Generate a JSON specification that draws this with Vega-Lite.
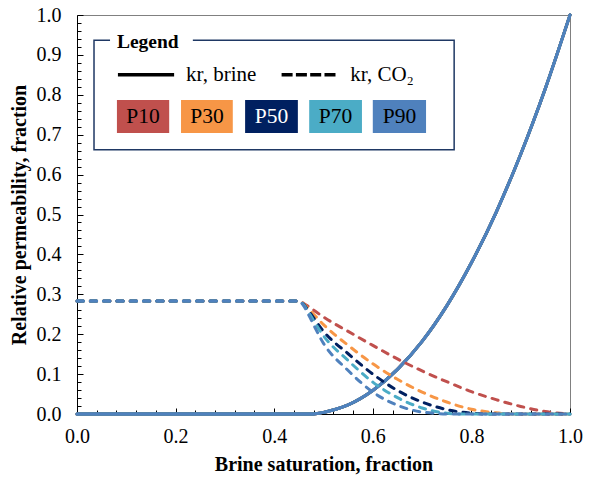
{
  "$schema": "https://vega.github.io/schema/vega-lite/v6.json",
  "width": 493,
  "height": 399,
  "autosize": "none",
  "padding": {"left": 77, "top": 15, "right": 22, "bottom": 65},
  "background": "white",
  "config": {
    "font": "Liberation Serif",
    "view": {"stroke": "#808080", "strokeWidth": 1}
  },
  "resolve": {"axis": {"x": "independent", "y": "independent"}},
  "datasets": {
    "brine": [
      {"run": "P10", "sw": 0, "kr": 0}, {"run": "P10", "sw": 0.46, "kr": 0}, {"run": "P10", "sw": 0.48, "kr": 0.0003}, {"run": "P10", "sw": 0.5, "kr": 0.004}, {"run": "P10", "sw": 0.525, "kr": 0.012}, {"run": "P10", "sw": 0.55, "kr": 0.023}, {"run": "P10", "sw": 0.6, "kr": 0.059}, {"run": "P10", "sw": 0.65, "kr": 0.112}, {"run": "P10", "sw": 0.7, "kr": 0.182}, {"run": "P10", "sw": 0.75, "kr": 0.271}, {"run": "P10", "sw": 0.8, "kr": 0.379}, {"run": "P10", "sw": 0.85, "kr": 0.505}, {"run": "P10", "sw": 0.9, "kr": 0.651}, {"run": "P10", "sw": 0.95, "kr": 0.816}, {"run": "P10", "sw": 1.0, "kr": 1.0},
      {"run": "P30", "sw": 0, "kr": 0}, {"run": "P30", "sw": 0.46, "kr": 0}, {"run": "P30", "sw": 0.48, "kr": 0.0003}, {"run": "P30", "sw": 0.5, "kr": 0.004}, {"run": "P30", "sw": 0.525, "kr": 0.012}, {"run": "P30", "sw": 0.55, "kr": 0.023}, {"run": "P30", "sw": 0.6, "kr": 0.059}, {"run": "P30", "sw": 0.65, "kr": 0.112}, {"run": "P30", "sw": 0.7, "kr": 0.182}, {"run": "P30", "sw": 0.75, "kr": 0.271}, {"run": "P30", "sw": 0.8, "kr": 0.379}, {"run": "P30", "sw": 0.85, "kr": 0.505}, {"run": "P30", "sw": 0.9, "kr": 0.651}, {"run": "P30", "sw": 0.95, "kr": 0.816}, {"run": "P30", "sw": 1.0, "kr": 1.0},
      {"run": "P50", "sw": 0, "kr": 0}, {"run": "P50", "sw": 0.46, "kr": 0}, {"run": "P50", "sw": 0.48, "kr": 0.0003}, {"run": "P50", "sw": 0.5, "kr": 0.004}, {"run": "P50", "sw": 0.525, "kr": 0.012}, {"run": "P50", "sw": 0.55, "kr": 0.023}, {"run": "P50", "sw": 0.6, "kr": 0.059}, {"run": "P50", "sw": 0.65, "kr": 0.112}, {"run": "P50", "sw": 0.7, "kr": 0.182}, {"run": "P50", "sw": 0.75, "kr": 0.271}, {"run": "P50", "sw": 0.8, "kr": 0.379}, {"run": "P50", "sw": 0.85, "kr": 0.505}, {"run": "P50", "sw": 0.9, "kr": 0.651}, {"run": "P50", "sw": 0.95, "kr": 0.816}, {"run": "P50", "sw": 1.0, "kr": 1.0},
      {"run": "P70", "sw": 0, "kr": 0}, {"run": "P70", "sw": 0.46, "kr": 0}, {"run": "P70", "sw": 0.48, "kr": 0.0003}, {"run": "P70", "sw": 0.5, "kr": 0.004}, {"run": "P70", "sw": 0.525, "kr": 0.012}, {"run": "P70", "sw": 0.55, "kr": 0.023}, {"run": "P70", "sw": 0.6, "kr": 0.059}, {"run": "P70", "sw": 0.65, "kr": 0.112}, {"run": "P70", "sw": 0.7, "kr": 0.182}, {"run": "P70", "sw": 0.75, "kr": 0.271}, {"run": "P70", "sw": 0.8, "kr": 0.379}, {"run": "P70", "sw": 0.85, "kr": 0.505}, {"run": "P70", "sw": 0.9, "kr": 0.651}, {"run": "P70", "sw": 0.95, "kr": 0.816}, {"run": "P70", "sw": 1.0, "kr": 1.0},
      {"run": "P90", "sw": 0, "kr": 0}, {"run": "P90", "sw": 0.46, "kr": 0}, {"run": "P90", "sw": 0.48, "kr": 0.0003}, {"run": "P90", "sw": 0.5, "kr": 0.004}, {"run": "P90", "sw": 0.525, "kr": 0.012}, {"run": "P90", "sw": 0.55, "kr": 0.023}, {"run": "P90", "sw": 0.6, "kr": 0.059}, {"run": "P90", "sw": 0.65, "kr": 0.112}, {"run": "P90", "sw": 0.7, "kr": 0.182}, {"run": "P90", "sw": 0.75, "kr": 0.271}, {"run": "P90", "sw": 0.8, "kr": 0.379}, {"run": "P90", "sw": 0.85, "kr": 0.505}, {"run": "P90", "sw": 0.9, "kr": 0.651}, {"run": "P90", "sw": 0.95, "kr": 0.816}, {"run": "P90", "sw": 1.0, "kr": 1.0}
    ],
    "co2": [
      {"run": "P10", "sw": 0, "kr": 0.283}, {"run": "P10", "sw": 0.45, "kr": 0.283}, {"run": "P10", "sw": 0.46, "kr": 0.277}, {"run": "P10", "sw": 0.47, "kr": 0.269}, {"run": "P10", "sw": 0.5, "kr": 0.243}, {"run": "P10", "sw": 0.55, "kr": 0.207}, {"run": "P10", "sw": 0.6, "kr": 0.172}, {"run": "P10", "sw": 0.65, "kr": 0.138}, {"run": "P10", "sw": 0.7, "kr": 0.108}, {"run": "P10", "sw": 0.75, "kr": 0.081}, {"run": "P10", "sw": 0.8, "kr": 0.056}, {"run": "P10", "sw": 0.85, "kr": 0.036}, {"run": "P10", "sw": 0.9, "kr": 0.019}, {"run": "P10", "sw": 0.95, "kr": 0.006}, {"run": "P10", "sw": 1.0, "kr": 0},
      {"run": "P30", "sw": 0, "kr": 0.283}, {"run": "P30", "sw": 0.45, "kr": 0.283}, {"run": "P30", "sw": 0.46, "kr": 0.275}, {"run": "P30", "sw": 0.47, "kr": 0.263}, {"run": "P30", "sw": 0.5, "kr": 0.224}, {"run": "P30", "sw": 0.55, "kr": 0.172}, {"run": "P30", "sw": 0.6, "kr": 0.126}, {"run": "P30", "sw": 0.65, "kr": 0.087}, {"run": "P30", "sw": 0.7, "kr": 0.055}, {"run": "P30", "sw": 0.75, "kr": 0.03}, {"run": "P30", "sw": 0.8, "kr": 0.012}, {"run": "P30", "sw": 0.85, "kr": 0.003}, {"run": "P30", "sw": 0.88, "kr": 0}, {"run": "P30", "sw": 1.0, "kr": 0},
      {"run": "P50", "sw": 0, "kr": 0.283}, {"run": "P50", "sw": 0.45, "kr": 0.283}, {"run": "P50", "sw": 0.46, "kr": 0.274}, {"run": "P50", "sw": 0.47, "kr": 0.258}, {"run": "P50", "sw": 0.5, "kr": 0.207}, {"run": "P50", "sw": 0.55, "kr": 0.151}, {"run": "P50", "sw": 0.6, "kr": 0.1}, {"run": "P50", "sw": 0.65, "kr": 0.059}, {"run": "P50", "sw": 0.7, "kr": 0.03}, {"run": "P50", "sw": 0.75, "kr": 0.011}, {"run": "P50", "sw": 0.8, "kr": 0.002}, {"run": "P50", "sw": 0.83, "kr": 0}, {"run": "P50", "sw": 1.0, "kr": 0},
      {"run": "P70", "sw": 0, "kr": 0.283}, {"run": "P70", "sw": 0.45, "kr": 0.283}, {"run": "P70", "sw": 0.46, "kr": 0.273}, {"run": "P70", "sw": 0.47, "kr": 0.254}, {"run": "P70", "sw": 0.5, "kr": 0.196}, {"run": "P70", "sw": 0.55, "kr": 0.134}, {"run": "P70", "sw": 0.6, "kr": 0.08}, {"run": "P70", "sw": 0.65, "kr": 0.041}, {"run": "P70", "sw": 0.7, "kr": 0.015}, {"run": "P70", "sw": 0.75, "kr": 0.002}, {"run": "P70", "sw": 0.78, "kr": 0}, {"run": "P70", "sw": 1.0, "kr": 0},
      {"run": "P90", "sw": 0, "kr": 0.283}, {"run": "P90", "sw": 0.45, "kr": 0.283}, {"run": "P90", "sw": 0.46, "kr": 0.271}, {"run": "P90", "sw": 0.47, "kr": 0.248}, {"run": "P90", "sw": 0.5, "kr": 0.177}, {"run": "P90", "sw": 0.55, "kr": 0.109}, {"run": "P90", "sw": 0.6, "kr": 0.055}, {"run": "P90", "sw": 0.65, "kr": 0.022}, {"run": "P90", "sw": 0.7, "kr": 0.005}, {"run": "P90", "sw": 0.76, "kr": 0}, {"run": "P90", "sw": 1.0, "kr": 0}
    ],
    "keyFrame": [{"sw": 0.0345, "sw2": 0.765, "kr": 0.662, "kr2": 0.937}],
    "keyTitleGap": [{"sw": 0.067, "sw2": 0.235, "kr": 0.925, "kr2": 0.95}],
    "keyTitle": [{"sw": 0.081, "kr": 0.932, "label": "Legend"}],
    "keyLines": [
      {"phase": "brine", "sw": 0.083, "sw2": 0.197, "kr": 0.85, "label": "kr, brine"},
      {"phase": "CO2", "sw": 0.415, "sw2": 0.53, "kr": 0.85, "label": "kr, CO₂"}
    ],
    "keySwatches": [
      {"run": "P10", "sw": 0.081, "sw2": 0.187, "swc": 0.134, "kr": 0.704, "kr2": 0.787, "krc": 0.7455},
      {"run": "P30", "sw": 0.211, "sw2": 0.316, "swc": 0.2635, "kr": 0.704, "kr2": 0.787, "krc": 0.7455},
      {"run": "P50", "sw": 0.341, "sw2": 0.448, "swc": 0.3945, "kr": 0.704, "kr2": 0.787, "krc": 0.7455},
      {"run": "P70", "sw": 0.471, "sw2": 0.578, "swc": 0.5245, "kr": 0.704, "kr2": 0.787, "krc": 0.7455},
      {"run": "P90", "sw": 0.6, "sw2": 0.708, "swc": 0.654, "kr": 0.704, "kr2": 0.787, "krc": 0.7455}
    ]
  },
  "layer": [
    {
      "data": {"name": "brine"},
      "mark": {"type": "line", "strokeWidth": 3, "interpolate": "monotone", "strokeCap": "round"},
      "encoding": {
        "x": {
          "field": "sw", "type": "quantitative",
          "scale": {"domain": [0, 1], "nice": false, "zero": false},
          "axis": {
            "orient": "bottom",
            "title": "Brine saturation, fraction",
            "titleFontSize": 20, "titleFontWeight": "bold", "titleColor": "black", "titlePadding": 8,
            "values": [0, 0.2, 0.4, 0.6, 0.8, 1.0],
            "format": ".1f",
            "labelFontSize": 20, "labelColor": "black", "labelPadding": 18, "labelFlush": false, "labelOverlap": false,
            "tickSize": -6, "tickColor": "black", "tickWidth": 1,
            "domainColor": "black", "domainWidth": 1, "grid": false
          }
        },
        "y": {
          "field": "kr", "type": "quantitative",
          "scale": {"domain": [0, 1], "nice": false},
          "axis": {
            "orient": "left",
            "title": "Relative permeability, fraction",
            "titleFontSize": 20, "titleFontWeight": "bold", "titleColor": "black", "titlePadding": 7,
            "values": [0, 0.1, 0.2, 0.3, 0.4, 0.5, 0.6, 0.7, 0.8, 0.9, 1.0],
            "format": ".1f",
            "labelFontSize": 20, "labelColor": "black", "labelPadding": 22, "labelFlush": false, "labelOverlap": false,
            "tickSize": -6, "tickColor": "black", "tickWidth": 1,
            "domainColor": "black", "domainWidth": 1, "grid": false
          }
        },
        "color": {
          "field": "run", "type": "nominal", "legend": null,
          "scale": {"domain": ["P10", "P30", "P50", "P70", "P90"], "range": ["#C0504D", "#F79646", "#002060", "#4BACC6", "#4F81BD"]}
        }
      }
    },
    {
      "data": {"name": "co2"},
      "mark": {"type": "line", "strokeWidth": 3, "interpolate": "monotone", "strokeDash": [6.3, 7], "strokeCap": "round"},
      "encoding": {
        "x": {
          "field": "sw", "type": "quantitative",
          "axis": {
            "orient": "bottom", "title": null, "labels": false, "domain": false, "grid": false,
            "values": [0.04, 0.08, 0.12, 0.16, 0.24, 0.28, 0.32, 0.36, 0.44, 0.48, 0.52, 0.56, 0.64, 0.68, 0.72, 0.76, 0.84, 0.88, 0.92, 0.96],
            "tickSize": -4, "tickColor": "black", "tickWidth": 1
          }
        },
        "y": {
          "field": "kr", "type": "quantitative",
          "axis": {
            "orient": "left", "title": null, "labels": false, "domain": false, "grid": false,
            "values": [0.02, 0.04, 0.06, 0.08, 0.12, 0.14, 0.16, 0.18, 0.22, 0.24, 0.26, 0.28, 0.32, 0.34, 0.36, 0.38, 0.42, 0.44, 0.46, 0.48, 0.52, 0.54, 0.56, 0.58, 0.62, 0.64, 0.66, 0.68, 0.72, 0.74, 0.76, 0.78, 0.82, 0.84, 0.86, 0.88, 0.92, 0.94, 0.96, 0.98],
            "tickSize": -4, "tickColor": "black", "tickWidth": 1
          }
        },
        "color": {"field": "run", "type": "nominal", "legend": null}
      }
    },
    {
      "data": {"name": "keyFrame"},
      "mark": {"type": "rect", "fill": "white", "stroke": "#1F3864", "strokeWidth": 1.5},
      "encoding": {
        "x": {"field": "sw", "type": "quantitative", "axis": null},
        "x2": {"field": "sw2"},
        "y": {"field": "kr", "type": "quantitative", "axis": null},
        "y2": {"field": "kr2"}
      }
    },
    {
      "data": {"name": "keyTitleGap"},
      "mark": {"type": "rect", "fill": "white"},
      "encoding": {
        "x": {"field": "sw", "type": "quantitative", "axis": null},
        "x2": {"field": "sw2"},
        "y": {"field": "kr", "type": "quantitative", "axis": null},
        "y2": {"field": "kr2"}
      }
    },
    {
      "data": {"name": "keyTitle"},
      "mark": {"type": "text", "align": "left", "baseline": "middle", "fontSize": 19.5, "fontWeight": "bold", "color": "black"},
      "encoding": {
        "x": {"field": "sw", "type": "quantitative", "axis": null},
        "y": {"field": "kr", "type": "quantitative", "axis": null},
        "text": {"field": "label"}
      }
    },
    {
      "data": {"name": "keyLines"},
      "mark": {"type": "rule", "strokeWidth": 3.5, "color": "black", "strokeCap": "butt"},
      "encoding": {
        "x": {"field": "sw", "type": "quantitative", "axis": null},
        "x2": {"field": "sw2"},
        "y": {"field": "kr", "type": "quantitative", "axis": null},
        "strokeDash": {
          "field": "phase", "type": "nominal", "legend": null,
          "scale": {"domain": ["brine", "CO2"], "range": [[1, 0], [11, 3.3]]}
        }
      }
    },
    {
      "data": {"name": "keyLines"},
      "mark": {"type": "text", "align": "left", "baseline": "middle", "dx": 12, "fontSize": 21, "color": "black"},
      "encoding": {
        "x": {"field": "sw2", "type": "quantitative", "axis": null},
        "y": {"field": "kr", "type": "quantitative", "axis": null},
        "text": {"field": "label"}
      }
    },
    {
      "data": {"name": "keySwatches"},
      "mark": {"type": "rect"},
      "encoding": {
        "x": {"field": "sw", "type": "quantitative", "axis": null},
        "x2": {"field": "sw2"},
        "y": {"field": "kr", "type": "quantitative", "axis": null},
        "y2": {"field": "kr2"},
        "fill": {
          "field": "run", "type": "nominal", "legend": null,
          "scale": {"domain": ["P10", "P30", "P50", "P70", "P90"], "range": ["#C0504D", "#F79646", "#002060", "#4BACC6", "#4F81BD"]}
        }
      }
    },
    {
      "data": {"name": "keySwatches"},
      "mark": {"type": "text", "align": "center", "baseline": "middle", "fontSize": 21.5},
      "encoding": {
        "x": {"field": "swc", "type": "quantitative", "axis": null},
        "y": {"field": "krc", "type": "quantitative", "axis": null},
        "text": {"field": "run"},
        "color": {"condition": {"test": "datum.run === 'P50'", "value": "white"}, "value": "black"}
      }
    }
  ]
}
